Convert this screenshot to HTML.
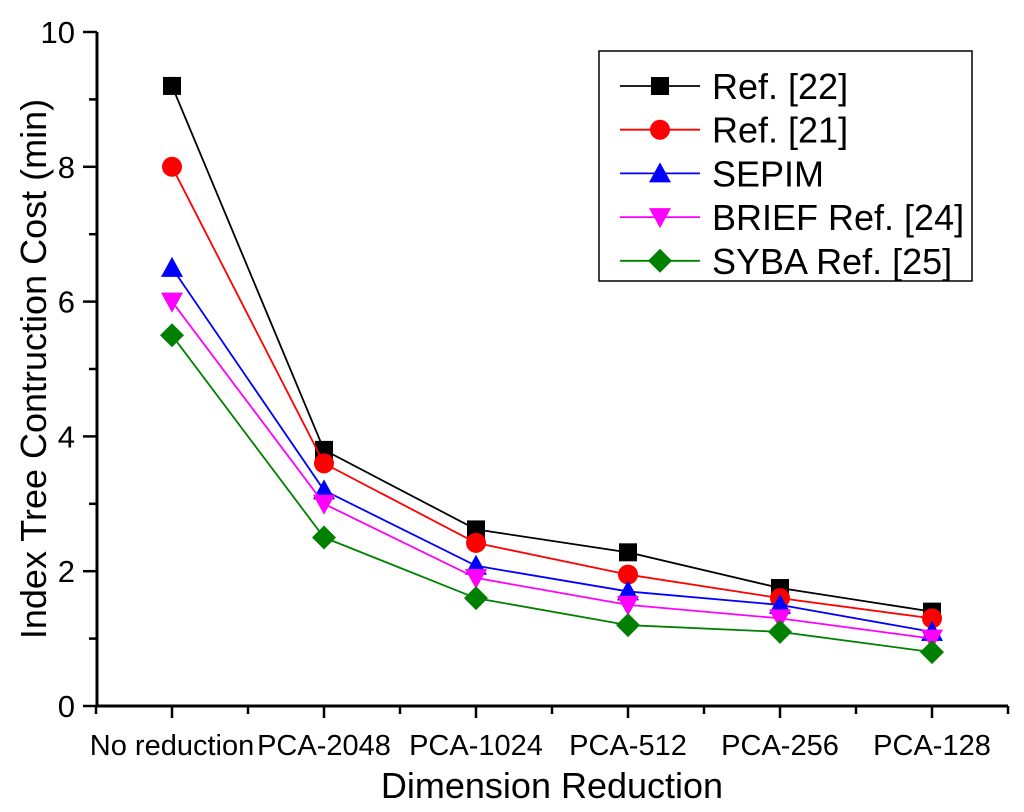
<!DOCTYPE html>
<html><head><meta charset="utf-8"><style>
html,body{margin:0;padding:0;background:#fff;}
svg{display:block;font-family:"Liberation Sans",Arial,sans-serif;}
</style></head><body>
<svg id="chart" width="1024" height="812" viewBox="0 0 1024 812" xmlns="http://www.w3.org/2000/svg">
<g id="axes"></g>
<g id="series"></g>
<g id="legend"></g>
</svg>
<script>
const categories = ["No reduction","PCA-2048","PCA-1024","PCA-512","PCA-256","PCA-128"];
const ref22 = [9.2, 3.8, 2.62, 2.28, 1.75, 1.4];
const ref21 = [8.0, 3.6, 2.42, 1.95, 1.6, 1.3];
const sepim = [6.5, 3.2, 2.08, 1.7, 1.5, 1.1];
const brief = [6.0, 3.0, 1.9, 1.5, 1.3, 1.0];
const syba = [5.5, 2.5, 1.6, 1.2, 1.1, 0.8];
const yTicks = [0, 2, 4, 6, 8, 10];
const seriesNames = ["Ref. [22]","Ref. [21]","SEPIM","BRIEF Ref. [24]","SYBA Ref. [25]"];

const NS = "http://www.w3.org/2000/svg";
const X0 = 97, Y0 = 706, YTOP = 32, XEND = 1008;
const yMax = 10;
const y = v => Y0 - (Y0 - YTOP) * v / yMax;
const step = 152;
const x = i => 172 + i * step;
function mk(tag, attrs, parent, text) {
  const e = document.createElementNS(NS, tag);
  for (const k in attrs) e.setAttribute(k, attrs[k]);
  if (text !== undefined) e.textContent = text;
  parent.appendChild(e);
  return e;
}
const axes = document.getElementById('axes');
let e;
e = mk('line', {x1:X0, y1:YTOP, x2:X0, y2:Y0+1.5, stroke:'#000','stroke-width':3}, axes);


e = mk('line', {x1:X0-1.5, y1:Y0, x2:XEND, y2:Y0, stroke:'#000','stroke-width':3}, axes);


for (let v = 0; v <= yMax; v++) {
  const major = v % 2 === 0;
  e = mk('line', {x1:X0 - (major ? 14 : 8), y1:y(v), x2:X0, y2:y(v), stroke:'#000','stroke-width':2.5}, axes);
  
  
}
yTicks.forEach(v => {
  e = mk('text', {x:X0 - 22, y:y(v) + 11, 'text-anchor':'end', 'font-size':31}, axes, String(v));
  
  
});
for (let k = -1; k <= categories.length * 2 - 1; k++) {
  const xx = 172 + k * step / 2;
  if (xx < X0 - 1 || xx > XEND) continue;
  const major = k % 2 === 0;
  e = mk('line', {x1:xx, y1:Y0, x2:xx, y2:Y0 + (major ? 12 : 8), stroke:'#000','stroke-width':2.5}, axes);
  
  
}
categories.forEach((c, i) => {
  e = mk('text', {x:x(i), y:755, 'text-anchor':'middle', 'font-size':29}, axes, c);
  
  
});
e = mk('text', {x:552, y:798, 'text-anchor':'middle', 'font-size':36}, axes, 'Dimension Reduction');


e = mk('text', {x:0, y:0, 'text-anchor':'middle', 'font-size':36, transform:'translate(46,369) rotate(-90)'}, axes, 'Index Tree Contruction Cost (min)');



function marker(type, cx, cy, color, parent) {
  let m;
  if (type === 'square') m = mk('rect', {x:cx-9, y:cy-9, width:18, height:18, fill:color}, parent);
  else if (type === 'circle') m = mk('circle', {cx:cx, cy:cy, r:10, fill:color}, parent);
  else if (type === 'up') m = mk('polygon', {points:`${cx},${cy-11} ${cx+11},${cy+9} ${cx-11},${cy+9}`, fill:color}, parent);
  else if (type === 'down') m = mk('polygon', {points:`${cx},${cy+11} ${cx+11},${cy-9} ${cx-11},${cy-9}`, fill:color}, parent);
  else m = mk('polygon', {points:`${cx},${cy-12} ${cx+12},${cy} ${cx},${cy+12} ${cx-12},${cy}`, fill:color}, parent);
  return m;
}
const defs = [
  {data:ref22, color:'#000000', mk:'square', key:'ref22'},
  {data:ref21, color:'#ff0000', mk:'circle', key:'ref21'},
  {data:sepim, color:'#0000ff', mk:'up', key:'sepim'},
  {data:brief, color:'#ff00ff', mk:'down', key:'brief'},
  {data:syba, color:'#008000', mk:'diamond', key:'syba'}
];
const sg = document.getElementById('series');
defs.forEach(d => {
  const g = mk('g', {}, sg);
  
  
  const pl = mk('polyline', {points:d.data.map((v,i)=>x(i)+','+y(v)).join(' '), fill:'none', stroke:d.color, 'stroke-width':1.8}, g);
  
  
  d.data.forEach((v,i) => {
    const m = marker(d.mk, x(i), y(v), d.color, g);
    
    
  });
});
const lg = document.getElementById('legend');


e = mk('rect', {x:599, y:51, width:373, height:230, fill:'#fff', stroke:'#000', 'stroke-width':1.5}, lg);


defs.forEach((d, i) => {
  const ry = 86 + i * 43.7;
  const g = mk('g', {}, lg);
  
  
  mk('line', {x1:620, y1:ry, x2:700, y2:ry, stroke:d.color, 'stroke-width':1.8}, g);
  marker(d.mk, 660, ry, d.color, g);
  mk('text', {x:712, y:ry + 13, 'font-size':36}, g, seriesNames[i]);
});
</script>
</body></html>
